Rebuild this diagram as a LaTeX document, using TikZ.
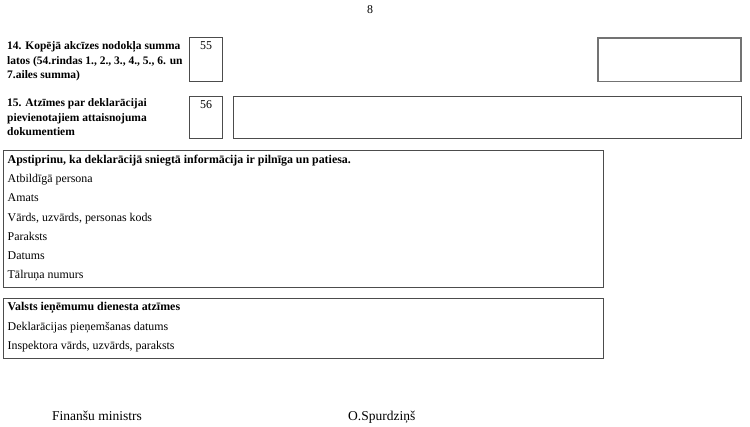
\documentclass[tikz,border=0pt]{standalone}
\usepackage{fontspec}
\setmainfont{Liberation Serif}
\tikzset{
  frame/.style={draw=black!70, line width=0.8pt},
  thickframe/.style={draw=black!55, line width=1.8pt},
  txt/.style={anchor=base west, inner sep=0pt, font=\fontsize{11.9}{14}\selectfont},
  btxt/.style={txt, font=\fontsize{11.9}{14}\selectfont\bfseries},
  htxt/.style={txt, font=\fontsize{11.5}{14}\selectfont\bfseries},
  foot/.style={anchor=base west, inner sep=0pt, font=\fontsize{13.5}{16}\selectfont}
}
\begin{document}
\begin{tikzpicture}[x=1pt,y=-1pt]
\useasboundingbox (0,0) rectangle (750,427);
% page number
\node[txt] (pg) at (367,14) {8};
% section 14
\node[htxt] (t14a) at (7,49.3) {14. Kopējā akcīzes nodokļa summa};
\node[htxt] (t14b) at (7,64.3) {latos (54.rindas 1., 2., 3., 4., 5., 6. un};
\node[htxt] (t14c) at (7,78.5) {7.ailes summa)};
\draw[frame] (189,37.5) rectangle (222.7,81);
\node[txt] (n55) at (200,50) {55};
\draw[thickframe] (598,38) rectangle (741,81.5);
% section 15
\node[htxt] (t15a) at (7,106.7) {15. Atzīmes par deklarācijai};
\node[htxt] (t15b) at (7,121.5) {pievienotajiem attaisnojuma};
\node[htxt] (t15c) at (7,135.5) {dokumentiem};
\draw[frame] (189,96) rectangle (222.7,138.3);
\node[txt] (n56) at (200,109) {56};
\draw[frame] (233,96.5) rectangle (741.5,138.3);
% box 1
\draw[frame] (3.5,150) rectangle (603,287);
\node[btxt] (a1) at (7.5,163.5) {Apstiprinu, ka deklarācijā sniegtā informācija ir pilnīga un patiesa.};
\node[txt] (a2) at (7.5,182.8) {Atbildīgā persona};
\node[txt] (a3) at (7.5,202.0) {Amats};
\node[txt] (a4) at (7.5,221.2) {Vārds, uzvārds, personas kods};
\node[txt] (a5) at (7.5,240.4) {Paraksts};
\node[txt] (a6) at (7.5,259.6) {Datums};
\node[txt] (a7) at (7.5,278.8) {Tālruņa numurs};
% box 2
\draw[frame] (3.5,298) rectangle (603,358);
\node[btxt] (b1) at (7.5,311) {Valsts ieņēmumu dienesta atzīmes};
\node[txt] (b2) at (7.5,330.2) {Deklarācijas pieņemšanas datums};
\node[txt] (b3) at (7.5,349.4) {Inspektora vārds, uzvārds, paraksts};
% footer
\node[foot] (f1) at (52,421) {Finanšu ministrs};
\node[foot] (f2) at (348,421) {O.Spurdziņš};
\end{tikzpicture}
\end{document}
